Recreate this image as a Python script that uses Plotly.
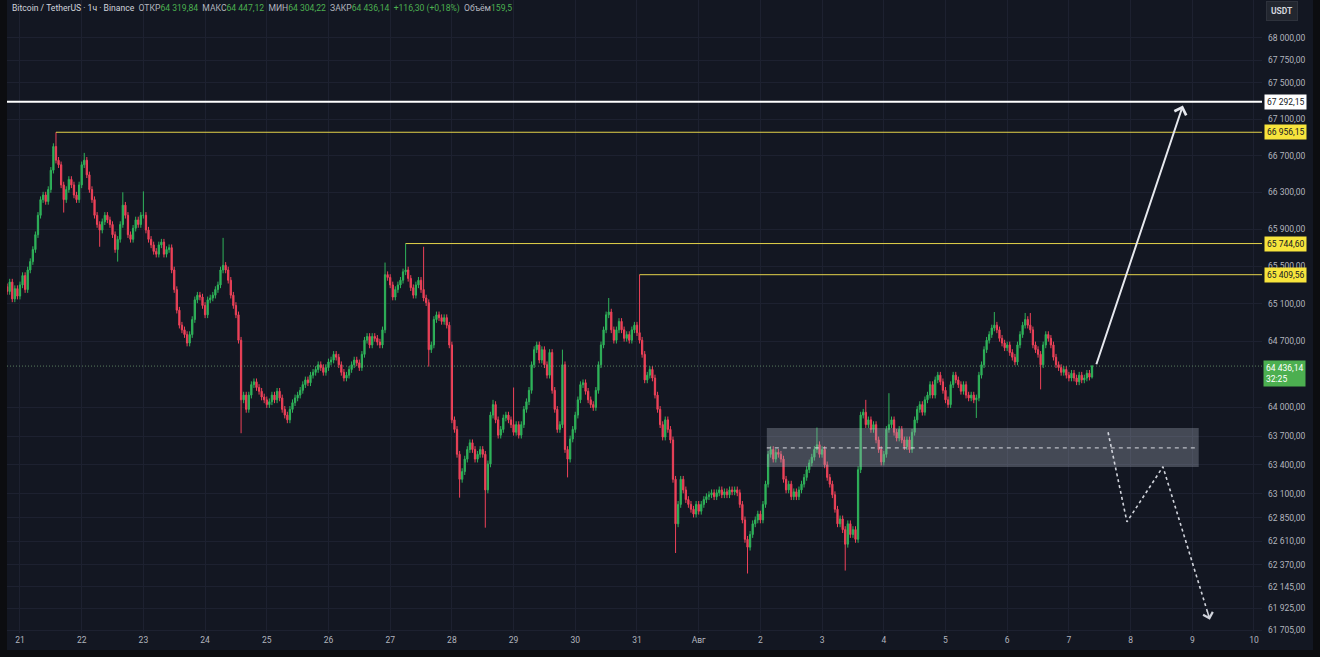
import math
import pandas as pd
import plotly.graph_objects as go

# BTCUSDT 1h, Binance - hourly closes
first_open = 65280
close_0720 = [65230, 65330, 65150, 65260, 65180]  # 19:00 - 23:00
close_0721 = [65300, 65400, 65250, 65460, 65550, 65680, 65840, 66050, 66220, 66270, 66200, 66330,
              66540, 66800, 66650, 66600, 66380, 66220, 66330, 66440, 66380, 66270, 66220, 66380]
close_0722 = [66600, 66650, 66490, 66330, 66220, 66050, 65950, 65890, 65980, 66050, 66000, 65950,
              65840, 65680, 65790, 65950, 66160, 66050, 65840, 65790, 65910, 66000, 65950, 66050]
close_0723 = [66050, 65890, 65790, 65730, 65660, 65630, 65730, 65760, 65630, 65680, 65700, 65460,
              65250, 65030, 64870, 64820, 64770, 64680, 64770, 64930, 65140, 65190, 65170, 65080]
close_0724 = [64980, 65140, 65160, 65190, 65250, 65300, 65460, 65510, 65460, 65350, 65190, 65080,
              64980, 64710, 64080, 64130, 63980, 64130, 64240, 64270, 64210, 64170, 64110, 64080]
close_0725 = [64030, 64060, 64130, 64080, 64170, 64100, 63980, 63920, 63870, 63980, 64050, 64100,
              64130, 64180, 64240, 64290, 64260, 64340, 64370, 64400, 64450, 64420, 64370, 64420]
close_0726 = [64480, 64500, 64560, 64530, 64450, 64370, 64310, 64340, 64400, 64450, 64500, 64470,
              64420, 64560, 64710, 64750, 64660, 64750, 64730, 64690, 64660, 64820, 65410, 65380]
close_0727 = [65300, 65170, 65250, 65300, 65350, 65440, 65460, 65370, 65270, 65190, 65300, 65350,
              65250, 65160, 65110, 64610, 64660, 64930, 64980, 64950, 64910, 64950, 64870, 64660]
close_0728 = [63870, 63770, 63510, 63250, 63330, 63460, 63560, 63630, 63560, 63460, 63510, 63560,
              63510, 63140, 63410, 63920, 64030, 63870, 63710, 63770, 63890, 63920, 63870, 63820]
close_0729 = [63740, 63820, 63710, 63820, 63980, 64060, 64180, 64450, 64610, 64660, 64500, 64610,
              64450, 64340, 64580, 64180, 63980, 63770, 63820, 64450, 63560, 63460, 63670, 63770]
close_0730 = [63920, 64080, 64240, 64260, 64170, 64080, 64030, 64000, 64180, 64450, 64660, 64820,
              64980, 65010, 64820, 64710, 64820, 64910, 64820, 64730, 64770, 64710, 64820, 64870]
close_0731 = [64790, 64710, 64560, 64290, 64340, 64400, 64310, 64130, 63980, 63820, 63690, 63870,
              63770, 63660, 63250, 62790, 62990, 63250, 63140, 63040, 62990, 62940, 62890, 62990]
close_0801 = [62920, 62990, 63040, 63070, 63090, 63110, 63070, 63110, 63140, 63090, 63120, 63090,
              63140, 63120, 63140, 63110, 62990, 62830, 62630, 62550, 62680, 62790, 62830, 62890]
close_0802 = [62830, 62990, 63200, 63510, 63560, 63460, 63530, 63510, 63460, 63250, 63140, 63200,
              63070, 63120, 63070, 63140, 63200, 63270, 63350, 63420, 63480, 63560, 63610, 63510]
close_0803 = [63560, 63400, 63270, 63200, 63090, 62940, 62790, 62840, 62730, 62580, 62790, 62680,
              62730, 62630, 63350, 63920, 63950, 63820, 63870, 63770, 63820, 63660, 63560, 63430]
close_0804 = [63510, 63770, 63820, 63870, 63740, 63680, 63770, 63660, 63590, 63660, 63560, 63740,
              63870, 63980, 64030, 63950, 64080, 64130, 64240, 64130, 64290, 64340, 64270, 64180]
close_0805 = [64080, 64030, 64240, 64340, 64290, 64240, 64170, 64240, 64130, 64100, 64130, 64080,
              64100, 64340, 64450, 64610, 64710, 64770, 64840, 64870, 64820, 64730, 64680, 64630]
close_0806 = [64660, 64580, 64530, 64480, 64660, 64770, 64870, 64930, 64870, 64820, 64660, 64610,
              64560, 64450, 64660, 64770, 64730, 64660, 64530, 64450, 64420, 64370, 64400, 64340]
close_0807 = [64310, 64360, 64310, 64270, 64340, 64290, 64310, 64360, 64319.84, 64436.14]  # 00:00 - 09:00

# wicks that stand out in the picture
highs = {
    "2024-07-21 14:00": 66956.15, "2024-07-22 01:00": 66730, "2024-07-22 16:00": 66300,
    "2024-07-23 00:00": 66310, "2024-07-24 07:00": 65806, "2024-07-26 22:00": 65540,
    "2024-07-27 06:00": 65744.60, "2024-07-27 13:00": 65710, "2024-07-28 16:00": 64080,
    "2024-07-29 00:00": 64210, "2024-07-29 19:00": 64610, "2024-07-30 13:00": 65160,
    "2024-07-31 01:00": 65409.56, "2024-08-02 22:00": 63790, "2024-08-03 17:00": 64080,
    "2024-08-04 02:00": 64150, "2024-08-05 19:00": 65010, "2024-08-06 07:00": 65000,
    "2024-08-06 09:00": 65000, "2024-08-07 09:00": 64447.12,
}
lows = {
    "2024-07-21 17:00": 66080, "2024-07-22 07:00": 65710, "2024-07-22 14:00": 65550,
    "2024-07-24 14:00": 63730, "2024-07-27 15:00": 64430, "2024-07-28 03:00": 63060,
    "2024-07-28 13:00": 62750, "2024-07-29 21:00": 63270, "2024-07-31 15:00": 62490,
    "2024-08-01 19:00": 62280, "2024-08-03 09:00": 62310, "2024-08-05 12:00": 63890,
    "2024-08-06 13:00": 64190, "2024-08-07 09:00": 64304.22,
}
small_wick = 35

# drawn levels / objects
white_level = 67292.15
yellow_levels = [66956.15, 65744.60, 65409.56]
yellow_start = ["2024-07-21 14:00", "2024-07-27 06:00", "2024-07-31 01:00"]
last_price = 64436.14
zone_x = ["2024-08-02 02:30", "2024-08-09 02:30"]
zone_y = [63379, 63786]
zone_mid = 63578
arrow_x = ["2024-08-07 10:30", "2024-08-08 20:20"]
arrow_y = [64440, 67250]
path_x = ["2024-08-07 15:15", "2024-08-07 22:35", "2024-08-08 12:35", "2024-08-09 06:50"]
path_y = [63740, 62810, 63380, 61810]

# header
hdr_names = ["ОТКР", "МАКС", "МИН", "ЗАКР"]
hdr_vals = [64319.84, 64447.12, 64304.22, 64436.14]
hdr_change = "+116,30 (+0,18%)"
hdr_volume = "159,5"

y_ticks = [68000, 67750, 67500, 67100, 66700, 66300, 65900, 65500, 65100, 64700,
           64000, 63700, 63400, 63100, 62850, 62610, 62370, 62145, 61925, 61705]
day_ticks = pd.date_range("2024-07-21", "2024-08-10", freq="D")
day_labels = ["21", "22", "23", "24", "25", "26", "27", "28", "29", "30", "31",
              "Авг", "2", "3", "4", "5", "6", "7", "8", "9", "10"]

closes = (close_0720 + close_0721 + close_0722 + close_0723 + close_0724 + close_0725 +
          close_0726 + close_0727 + close_0728 + close_0729 + close_0730 + close_0731 +
          close_0801 + close_0802 + close_0803 + close_0804 + close_0805 + close_0806 + close_0807)
times = pd.date_range("2024-07-20 19:00", periods=len(closes), freq="h")
opens = [first_open] + closes[:-1]
hi, lo = [], []
for t, o, c in zip(times, opens, closes):
    key = t.strftime("%Y-%m-%d %H:%M")
    hi.append(highs.get(key, max(o, c) + small_wick))
    lo.append(lows.get(key, min(o, c) - small_wick))


def fmt(v):
    return f"{v:,.2f}".replace(",", " ").replace(".", ",")


BG = "#131722"
GRID = "#1d2130"
TXT = "#b2b5be"
UP = "#2fb35a"
DOWN = "#ee4259"
YEL = "#e3d24a"
FONT = "Roboto"

x_range = ["2024-07-20 18:57", "2024-08-10 03:07"]
y_range = [math.log10(61675), math.log10(68425)]

fig = go.Figure()

fig.add_trace(go.Candlestick(
    x=times, open=opens, high=hi, low=lo, close=closes,
    increasing=dict(line=dict(color=UP, width=1), fillcolor=UP),
    decreasing=dict(line=dict(color=DOWN, width=1), fillcolor=DOWN),
    whiskerwidth=0, showlegend=False,
))

# current price dotted line
fig.add_trace(go.Scatter(x=x_range, y=[last_price, last_price], mode="lines",
                         line=dict(color="rgba(120,170,120,0.7)", width=1, dash="1px,2px"),
                         showlegend=False, hoverinfo="skip"))

# white level
fig.add_trace(go.Scatter(x=x_range, y=[white_level, white_level], mode="lines",
                         line=dict(color="#ffffff", width=2), showlegend=False, hoverinfo="skip"))

# yellow levels
for lvl, st in zip(yellow_levels, yellow_start):
    fig.add_trace(go.Scatter(x=[st, x_range[1]], y=[lvl, lvl], mode="lines",
                             line=dict(color=YEL, width=1), showlegend=False, hoverinfo="skip"))

# grey zone with dashed middle
fig.add_trace(go.Scatter(
    x=[zone_x[0], zone_x[1], zone_x[1], zone_x[0], zone_x[0]],
    y=[zone_y[0], zone_y[0], zone_y[1], zone_y[1], zone_y[0]],
    mode="lines", fill="toself", fillcolor="rgba(170,175,190,0.33)",
    line=dict(width=0), showlegend=False, hoverinfo="skip"))
fig.add_trace(go.Scatter(x=zone_x, y=[zone_mid, zone_mid], mode="lines",
                         line=dict(color="rgba(225,228,235,0.75)", width=1.2, dash="4px,4px"),
                         showlegend=False, hoverinfo="skip"))

# dotted scenario path
fig.add_trace(go.Scatter(x=path_x, y=path_y, mode="lines",
                         line=dict(color="#d1d4dc", width=1.6, dash="3px,3px"),
                         showlegend=False, hoverinfo="skip"))
fig.add_annotation(x=path_x[-1], y=math.log10(path_y[-1]), xref="x", yref="y",
                   ax=-3, ay=-10, showarrow=True, arrowhead=4, arrowsize=1.3,
                   arrowwidth=1.5, arrowcolor="#d1d4dc", text="")

# solid arrow up
fig.add_annotation(x=arrow_x[1], y=math.log10(arrow_y[1]), xref="x", yref="y",
                   ax=arrow_x[0], ay=math.log10(arrow_y[0]), axref="x", ayref="y",
                   showarrow=True, arrowhead=4, arrowsize=1.2, arrowwidth=2,
                   arrowcolor="#e6e8ee", text="")

# price labels on the right axis
labels = [(white_level, "#ffffff", "#131722")] + [(v, "#f7e43c", "#131722") for v in yellow_levels]
for v, bg, fg in labels:
    fig.add_annotation(x=1, y=math.log10(v), xref="paper", yref="y", xanchor="left",
                       xshift=2, text=fmt(v), showarrow=False, bgcolor=bg,
                       font=dict(family=FONT, size=8.5, color=fg), borderpad=2)
fig.add_annotation(x=1, y=math.log10(last_price), xref="paper", yref="y", xanchor="left",
                   yanchor="top", xshift=1, yshift=6, align="left",
                   text=fmt(last_price) + "<br>32:25", showarrow=False, bgcolor="#4caf50",
                   font=dict(family=FONT, size=8.5, color="#ffffff"), borderpad=2)

fig.add_annotation(x=1.0032, y=1, xref="paper", yref="paper", xanchor="left", yanchor="top",
                   yshift=-1, text="<b>USDT</b>", showarrow=False, bgcolor="#22262f",
                   bordercolor="#2e323c", borderwidth=1, borderpad=4,
                   font=dict(family=FONT, size=8.5, color="#d1d4dc"))

# header line
parts = ['<span style="color:#d1d4dc">Bitcoin / TetherUS · 1ч · Binance</span>']
for n, v in zip(hdr_names, hdr_vals):
    parts.append(f'{n}<span style="color:#4caf50">{fmt(v)}</span>')
parts.append(f'<span style="color:#4caf50">{hdr_change}</span>')
parts.append(f'Объём<span style="color:#4caf50">{hdr_volume}</span>')
fig.add_annotation(x=0.0024, y=1, xref="paper", yref="paper", xanchor="left", yanchor="top",
                   yshift=-1, text="  ".join(parts), showarrow=False,
                   font=dict(family=FONT, size=8.6, color=TXT))

# screenshot frame
frame = "#0c0d10"
for x0, x1, y0, y1 in [(-7 / 1255, 0, -24 / 633, 1), (1306 / 1255, 1313 / 1255, -24 / 633, 1),
                       (-7 / 1255, 1313 / 1255, -24 / 633, -17 / 633)]:
    fig.add_shape(type="rect", xref="paper", yref="paper", x0=x0, x1=x1, y0=y0, y1=y1,
                  fillcolor=frame, line=dict(width=0), layer="above")

fig.update_layout(
    width=1320, height=657,
    margin=dict(l=7, r=58, t=0, b=24),
    paper_bgcolor=BG, plot_bgcolor=BG,
    font=dict(family=FONT, size=8, color=TXT),
    showlegend=False,
    xaxis=dict(type="date", range=x_range, tickvals=day_ticks, ticktext=day_labels,
               showgrid=True, gridcolor=GRID, zeroline=False, showline=False, ticks="",
               tickfont=dict(size=8.5, color=TXT), rangeslider=dict(visible=False),
               fixedrange=True),
    yaxis=dict(type="log", side="right", range=y_range, tickvals=y_ticks,
               ticktext=[fmt(v) for v in y_ticks], showgrid=True, gridcolor=GRID,
               zeroline=False, showline=False, ticks="", ticklabelstandoff=5,
               tickfont=dict(size=8.5, color=TXT), fixedrange=True),
)

# page body has a default margin; drop it so the chart sits at the window corner
fig.write_html("out.html", config={"displayModeBar": False},
               post_script="document.body.style.margin='0';document.body.style.overflow='hidden';")
